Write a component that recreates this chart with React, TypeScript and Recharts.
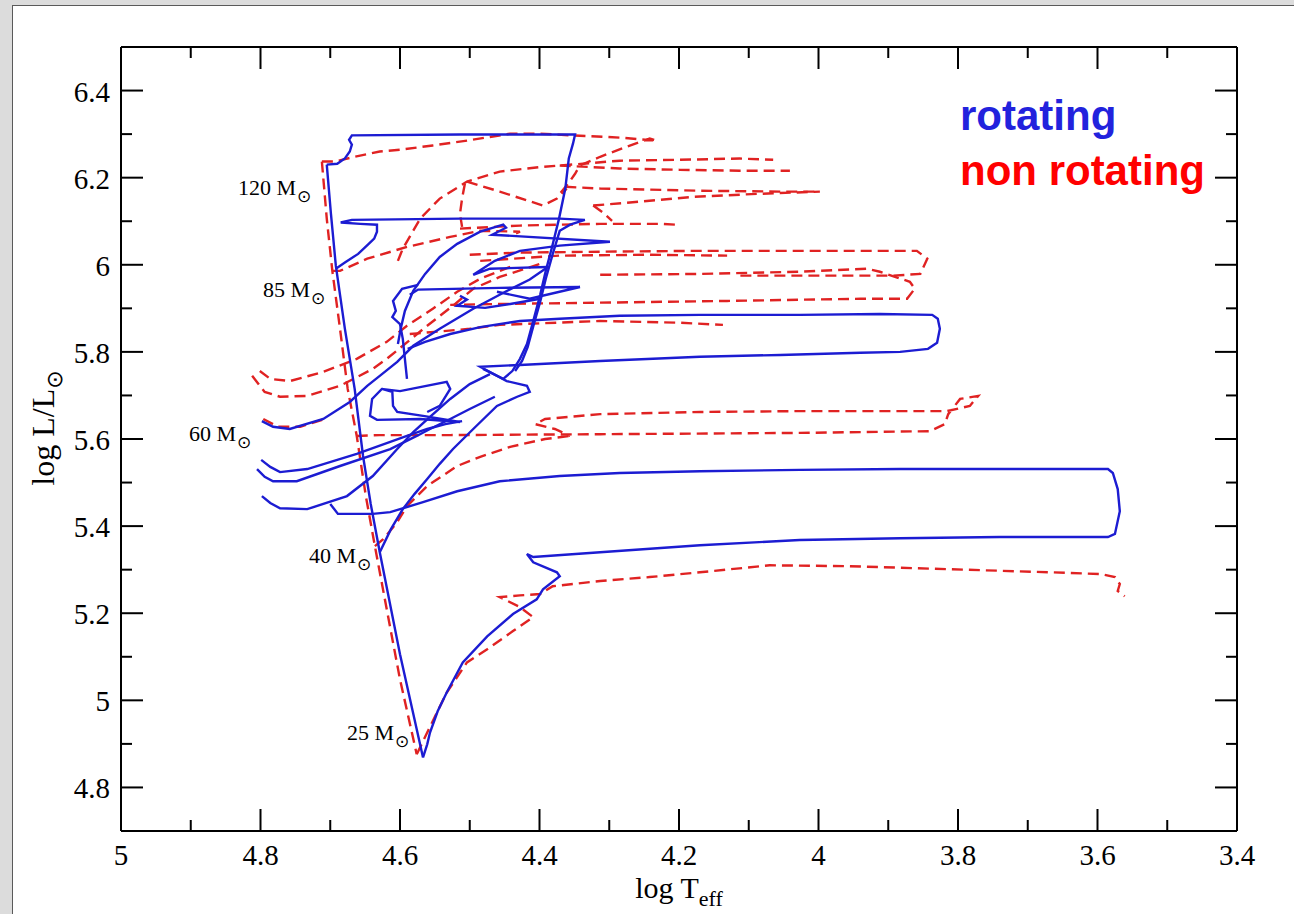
import React from 'react';
import { LineChart, Line, XAxis, YAxis } from 'recharts';

type P = [number, number]; // [log Teff, log L/Lsun]

// ---------- rotating models (solid blue) ----------
const zamsRot: P[] = [[4.705, 6.230], [4.699, 6.117], [4.692, 5.998], [4.679, 5.853], [4.665, 5.715], [4.653, 5.561], [4.642, 5.451], [4.629, 5.340], [4.600, 5.106], [4.567, 4.869]];
const rot120: P[] = [[4.705, 6.230], [4.690, 6.232], [4.679, 6.244], [4.672, 6.260], [4.669, 6.276], [4.673, 6.287], [4.669, 6.297], [4.514, 6.299], [4.349, 6.299], [4.352, 6.278], [4.358, 6.244], [4.363, 6.175], [4.372, 6.106], [4.382, 6.041], [4.391, 5.986], [4.399, 5.931], [4.409, 5.871], [4.418, 5.818], [4.428, 5.784], [4.439, 5.756], [4.452, 5.738], [4.481, 5.761]];
const rot85: P[] = [[4.692, 5.991], [4.679, 6.005], [4.660, 6.025], [4.646, 6.046], [4.637, 6.060], [4.633, 6.076], [4.633, 6.092], [4.657, 6.094], [4.685, 6.097], [4.669, 6.103], [4.514, 6.106], [4.371, 6.106], [4.335, 6.103], [4.356, 6.092], [4.371, 6.078], [4.381, 6.025], [4.391, 5.968], [4.399, 5.915], [4.408, 5.864], [4.417, 5.811], [4.425, 5.779], [4.435, 5.756]];
const rot60: P[] = [[4.798, 5.641], [4.782, 5.628], [4.758, 5.623], [4.710, 5.646], [4.672, 5.685], [4.647, 5.722], [4.629, 5.745], [4.604, 5.777], [4.581, 5.814], [4.543, 5.853], [4.495, 5.899], [4.449, 5.938], [4.414, 5.966], [4.388, 5.995]];
const rot40: P[] = [[4.629, 5.340], [4.613, 5.393], [4.596, 5.439], [4.579, 5.474], [4.561, 5.508], [4.543, 5.543], [4.524, 5.577], [4.495, 5.623], [4.461, 5.676], [4.432, 5.697], [4.414, 5.708], [4.418, 5.722], [4.447, 5.733], [4.485, 5.766], [4.428, 5.770], [4.313, 5.779], [4.170, 5.789], [4.055, 5.793], [3.940, 5.798], [3.883, 5.800], [3.843, 5.807], [3.830, 5.821], [3.826, 5.853], [3.829, 5.876], [3.837, 5.885], [3.912, 5.887], [4.027, 5.885], [4.170, 5.885], [4.285, 5.883], [4.371, 5.876], [4.428, 5.871], [4.485, 5.857], [4.528, 5.841], [4.564, 5.823], [4.589, 5.807]];
const rot25: P[] = [[4.567, 4.869], [4.561, 4.899], [4.557, 4.926], [4.546, 4.975], [4.533, 5.018], [4.510, 5.087], [4.475, 5.147], [4.438, 5.198], [4.404, 5.232], [4.395, 5.255], [4.371, 5.285], [4.375, 5.294], [4.409, 5.317], [4.418, 5.336], [4.409, 5.329], [4.313, 5.340], [4.170, 5.356], [4.027, 5.368], [3.883, 5.372], [3.740, 5.375], [3.585, 5.375], [3.575, 5.382], [3.568, 5.434], [3.571, 5.485], [3.578, 5.522], [3.585, 5.531], [3.740, 5.531], [3.883, 5.531], [4.027, 5.529], [4.170, 5.526], [4.285, 5.522], [4.371, 5.515], [4.457, 5.503], [4.518, 5.480], [4.567, 5.455], [4.614, 5.432], [4.639, 5.428], [4.689, 5.428], [4.700, 5.451]];
const rotLoopA: P[] = [[4.603, 5.818], [4.599, 5.853], [4.593, 5.894], [4.581, 5.940], [4.564, 5.979], [4.543, 6.018], [4.518, 6.048], [4.485, 6.076], [4.452, 6.092], [4.448, 6.085], [4.468, 6.069], [4.299, 6.053], [4.371, 6.044], [4.428, 6.032], [4.464, 6.009], [4.495, 5.977], [4.471, 5.991], [4.389, 5.995]];
const rotLoopB: P[] = [[4.586, 5.931], [4.574, 5.943], [4.457, 5.947], [4.342, 5.949], [4.414, 5.922], [4.461, 5.938]];
const rotLoopC: P[] = [[4.514, 5.929], [4.504, 5.920], [4.518, 5.906], [4.478, 5.901], [4.442, 5.910], [4.399, 5.922]];
const rotLoopD: P[] = [[4.574, 5.954], [4.597, 5.945], [4.610, 5.917], [4.606, 5.894], [4.611, 5.880], [4.600, 5.864], [4.596, 5.830], [4.593, 5.784], [4.590, 5.738]];
const rotLoopE: P[] = [[4.626, 5.715], [4.611, 5.708], [4.610, 5.676], [4.604, 5.662], [4.567, 5.653], [4.514, 5.639], [4.571, 5.646], [4.633, 5.644], [4.643, 5.653], [4.640, 5.692], [4.626, 5.715], [4.600, 5.710], [4.533, 5.731], [4.528, 5.715], [4.543, 5.676], [4.561, 5.662]];
const rotBlue1: P[] = [[4.799, 5.552], [4.786, 5.536], [4.772, 5.524], [4.733, 5.531], [4.662, 5.566], [4.590, 5.607], [4.561, 5.623], [4.535, 5.634], [4.511, 5.641]];
const rotBlue2: P[] = [[4.805, 5.531], [4.794, 5.513], [4.782, 5.503], [4.748, 5.503], [4.686, 5.538], [4.614, 5.577], [4.576, 5.607], [4.557, 5.623], [4.528, 5.646], [4.500, 5.669], [4.464, 5.697]];
const rotBlue3: P[] = [[4.798, 5.469], [4.786, 5.453], [4.772, 5.441], [4.733, 5.439], [4.676, 5.469], [4.639, 5.515], [4.604, 5.577], [4.581, 5.616], [4.557, 5.651], [4.528, 5.692], [4.500, 5.726], [4.471, 5.749]];

// ---------- non-rotating models (dashed red) ----------
const zamsNonRot: P[] = [[4.712, 6.237], [4.705, 6.106], [4.697, 5.986], [4.686, 5.853], [4.675, 5.715], [4.662, 5.607], [4.649, 5.469], [4.636, 5.354], [4.619, 5.209], [4.600, 5.048], [4.576, 4.876]];
const non120: P[] = [[4.712, 6.237], [4.693, 6.237], [4.665, 6.248], [4.629, 6.260], [4.600, 6.264], [4.553, 6.274], [4.504, 6.285], [4.442, 6.301], [4.399, 6.301], [4.352, 6.297], [4.285, 6.292], [4.232, 6.285], [4.242, 6.290], [4.275, 6.271], [4.313, 6.248], [4.342, 6.228], [4.349, 6.209], [4.359, 6.186], [4.371, 6.163]];
const nonArc: P[] = [[4.603, 6.009], [4.596, 6.037], [4.571, 6.106], [4.543, 6.152], [4.504, 6.191], [4.457, 6.214], [4.395, 6.225], [4.338, 6.232], [4.285, 6.239], [4.199, 6.241], [4.113, 6.244], [4.065, 6.241]];
const nonB: P[] = [[4.371, 6.228], [4.285, 6.221], [4.199, 6.218], [4.113, 6.216], [4.041, 6.216]];
const nonD: P[] = [[4.363, 6.179], [4.313, 6.175], [4.170, 6.170], [4.055, 6.168], [3.998, 6.168]];
const nonV: P[] = [[4.504, 6.191], [4.457, 6.168], [4.395, 6.136], [4.375, 6.152], [4.361, 6.175]];
const nonF: P[] = [[4.323, 6.136], [4.256, 6.145], [4.180, 6.156], [4.084, 6.163], [3.998, 6.168]];
const nonG: P[] = [[4.514, 6.083], [4.428, 6.090], [4.313, 6.094], [4.227, 6.094], [4.203, 6.092]];
const nonG2: P[] = [[4.323, 6.136], [4.309, 6.120], [4.296, 6.101]];
const nonVert: P[] = [[4.507, 6.186], [4.511, 6.152], [4.514, 6.117], [4.511, 6.087]];
const non85: P[] = [[4.697, 5.986], [4.686, 5.986], [4.647, 6.014], [4.590, 6.041], [4.528, 6.064], [4.485, 6.078], [4.428, 6.076], [4.438, 6.069]];
const nonH: P[] = [[4.500, 6.023], [4.428, 6.028], [4.313, 6.030], [4.170, 6.032], [4.027, 6.032], [3.859, 6.032], [3.844, 6.014], [3.854, 5.979], [3.893, 5.975], [4.037, 5.975], [4.117, 5.975]];
const nonI: P[] = [[4.485, 6.009], [4.371, 6.021], [4.242, 6.023], [4.131, 6.021]];
const nonJ: P[] = [[4.313, 5.977], [4.170, 5.979], [4.027, 5.984], [3.930, 5.991], [3.912, 5.984], [3.869, 5.961], [3.862, 5.945], [3.873, 5.922], [3.940, 5.922], [4.131, 5.917], [4.313, 5.913], [4.457, 5.910], [4.528, 5.908]];
const nonK: P[] = [[4.586, 5.841], [4.500, 5.853], [4.457, 5.862], [4.313, 5.871], [4.199, 5.867], [4.137, 5.862]];
const non60: P[] = [[4.662, 5.607], [4.629, 5.609], [4.528, 5.609], [4.313, 5.611], [4.027, 5.614], [3.840, 5.618], [3.819, 5.634], [3.814, 5.657], [3.797, 5.692], [3.771, 5.699], [3.783, 5.676], [3.816, 5.664], [3.883, 5.664], [4.027, 5.664], [4.170, 5.662], [4.313, 5.657], [4.392, 5.646], [4.406, 5.634], [4.378, 5.623], [4.356, 5.607]];
const non40: P[] = [[4.636, 5.354], [4.624, 5.370], [4.604, 5.409], [4.590, 5.446], [4.561, 5.492], [4.518, 5.538], [4.485, 5.559], [4.442, 5.582], [4.392, 5.600], [4.356, 5.607]];
const non25: P[] = [[4.576, 4.876], [4.561, 4.926], [4.533, 5.018], [4.504, 5.087], [4.475, 5.117], [4.438, 5.159], [4.409, 5.191], [4.428, 5.214], [4.457, 5.237], [4.428, 5.241], [4.399, 5.244], [4.381, 5.262], [4.313, 5.274], [4.242, 5.283], [4.170, 5.294], [4.070, 5.310], [3.955, 5.308], [3.812, 5.301], [3.668, 5.294], [3.596, 5.290], [3.575, 5.283], [3.568, 5.267], [3.571, 5.251], [3.561, 5.239]];
const nonL1: P[] = [[4.812, 5.745], [4.794, 5.708], [4.772, 5.697], [4.733, 5.699], [4.686, 5.722], [4.639, 5.761], [4.619, 5.784], [4.596, 5.814], [4.561, 5.860], [4.524, 5.906], [4.495, 5.945], [4.457, 5.972], [4.399, 6.002]];
const nonL2: P[] = [[4.801, 5.756], [4.786, 5.738], [4.758, 5.733], [4.710, 5.754], [4.662, 5.784], [4.619, 5.823], [4.590, 5.860], [4.553, 5.899], [4.518, 5.938], [4.485, 5.968], [4.442, 5.995]];
const nonL3: P[] = [[4.796, 5.646], [4.775, 5.628], [4.743, 5.628], [4.708, 5.646]];

const rotatingTracks: P[][] = [zamsRot, rot120, rot85, rot60, rot40, rot25, rotLoopA, rotLoopB, rotLoopC, rotLoopD, rotLoopE, rotBlue1, rotBlue2, rotBlue3];
const nonRotatingTracks: P[][] = [zamsNonRot, non120, nonArc, nonB, nonD, nonV, nonF, nonG, nonG2, nonVert, non85, nonH, nonI, nonJ, nonK, non60, non40, non25, nonL1, nonL2, nonL3];

// axis ticks (majors every 0.2, minors in between)
const xTicks = [5, 4.9, 4.8, 4.7, 4.6, 4.5, 4.4, 4.3, 4.2, 4.1, 4, 3.9, 3.8, 3.7, 3.6, 3.5, 3.4];
const yTicks = [4.8, 4.9, 5, 5.1, 5.2, 5.3, 5.4, 5.5, 5.6, 5.7, 5.8, 5.9, 6, 6.1, 6.2, 6.3, 6.4];

// initial masses shown next to the ZAMS
const massLabels = ['120', '85', '60', '40', '25'];

const BLUE = '#1c1cd2';
const RED = '#e02222';
const SERIF = '"Liberation Serif", "Times New Roman", Times, serif';
const SANS = '"Liberation Sans", Arial, Helvetica, sans-serif';
const SYMBOL = '"DejaVu Sans", sans-serif';

const toRows = (pts: P[]) => pts.map(([t, l]) => ({ t, l }));
const isMajor = (v: number) => Math.round(v * 10) % 2 === 0;
const fmt = (v: number) => String(Math.round(v * 10) / 10);

const MAJOR = 22;
const MINOR = 11;
const TICK_FONT = 29;

function BottomTick(props: any) {
  const { x, y, payload } = props;
  const major = isMajor(payload.value);
  return (
    <g>
      <line x1={x} y1={y} x2={x} y2={y - (major ? MAJOR : MINOR)} stroke="#000" strokeWidth={2} />
      {major && (
        <text x={x} y={y + 34} textAnchor="middle" fontFamily={SERIF} fontSize={TICK_FONT} fill="#000">
          {fmt(payload.value)}
        </text>
      )}
    </g>
  );
}

function TopTick(props: any) {
  const { x, y, payload } = props;
  const major = isMajor(payload.value);
  return <line x1={x} y1={y} x2={x} y2={y + (major ? MAJOR : MINOR)} stroke="#000" strokeWidth={2} />;
}

function LeftTick(props: any) {
  const { x, y, payload } = props;
  const major = isMajor(payload.value);
  return (
    <g>
      <line x1={x} y1={y} x2={x + (major ? MAJOR : MINOR)} y2={y} stroke="#000" strokeWidth={2} />
      {major && (
        <text x={x - 11} y={y + 11} textAnchor="end" fontFamily={SERIF} fontSize={TICK_FONT} fill="#000">
          {fmt(payload.value)}
        </text>
      )}
    </g>
  );
}

function RightTick(props: any) {
  const { x, y, payload } = props;
  const major = isMajor(payload.value);
  return <line x1={x} y1={y} x2={x - (major ? MAJOR : MINOR)} y2={y} stroke="#000" strokeWidth={2} />;
}

const axisLine = { stroke: '#000', strokeWidth: 2 };

// where each mass label sits (left edge, baseline) in page pixels
const massLabelPos: Record<string, [number, number]> = {
  '120': [238, 195],
  '85': [263, 297],
  '60': [189, 441],
  '40': [309, 563],
  '25': [347, 740],
};

export default function App() {
  return (
    <div style={{ position: 'absolute', left: 0, top: 0, width: 1294, height: 914, background: '#dcdcdc', overflow: 'hidden' }}>
      <div style={{ position: 'absolute', left: 12, top: 5, right: 0, bottom: 0, background: '#fff', borderLeft: '1px solid #5a5a5a', borderTop: '1px solid #5a5a5a' }} />
      <div style={{ position: 'absolute', left: 0, top: 0 }}>
        <LineChart width={1294} height={914} margin={{ top: 37, right: 47, bottom: 43, left: 61 }}>
          <XAxis xAxisId="b" dataKey="t" type="number" domain={[3.4, 5]} reversed allowDataOverflow ticks={xTicks} interval={0}
            tickLine={false} tickSize={0} tickMargin={0} axisLine={axisLine} tick={BottomTick} height={40} />
          <XAxis xAxisId="t" orientation="top" dataKey="t" type="number" domain={[3.4, 5]} reversed allowDataOverflow ticks={xTicks} interval={0}
            tickLine={false} tickSize={0} tickMargin={0} axisLine={axisLine} tick={TopTick} height={10} />
          <YAxis yAxisId="l" dataKey="l" type="number" domain={[4.7, 6.5]} allowDataOverflow ticks={yTicks} interval={0}
            tickLine={false} tickSize={0} tickMargin={0} axisLine={axisLine} tick={LeftTick} width={60} />
          <YAxis yAxisId="r" orientation="right" dataKey="l" type="number" domain={[4.7, 6.5]} allowDataOverflow ticks={yTicks} interval={0}
            tickLine={false} tickSize={0} tickMargin={0} axisLine={axisLine} tick={RightTick} width={10} />
          {nonRotatingTracks.map((trk, i) => (
            <Line key={`n${i}`} xAxisId="b" yAxisId="l" data={toRows(trk)} dataKey="l" type="linear" stroke={RED}
              strokeWidth={2.4} strokeDasharray="11 6" dot={false} activeDot={false} isAnimationActive={false} />
          ))}
          {rotatingTracks.map((trk, i) => (
            <Line key={`r${i}`} xAxisId="b" yAxisId="l" data={toRows(trk)} dataKey="l" type="linear" stroke={BLUE}
              strokeWidth={2.4} dot={false} activeDot={false} isAnimationActive={false} />
          ))}
        </LineChart>
      </div>
      <svg width={1294} height={914} style={{ position: 'absolute', left: 0, top: 0, pointerEvents: 'none' }}>
        <text x={960} y={130} fontFamily={SANS} fontWeight="bold" fontSize={42} fill="#2222dd">rotating</text>
        <text x={960} y={185} fontFamily={SANS} fontWeight="bold" fontSize={42} fill="#ff0000">non rotating</text>
        {massLabels.map((m) => (
          <text key={m} x={massLabelPos[m][0]} y={massLabelPos[m][1]} fontFamily={SERIF} fontSize={22} fill="#000">
            {m} M
            <tspan dx={1} dy={7} fontFamily={SYMBOL} fontSize={17}>⊙</tspan>
          </text>
        ))}
        <text transform="translate(54,428) rotate(-90)" textAnchor="middle" fontFamily={SERIF} fontSize={32} fill="#000">
          log L/L<tspan dy={8} fontFamily={SYMBOL} fontSize={22}>⊙</tspan>
        </text>
        <text x={679} y={898} textAnchor="middle" fontFamily={SERIF} fontSize={30} fill="#000">
          log T<tspan dy={8} fontSize={22}>eff</tspan>
        </text>
      </svg>
    </div>
  );
}
